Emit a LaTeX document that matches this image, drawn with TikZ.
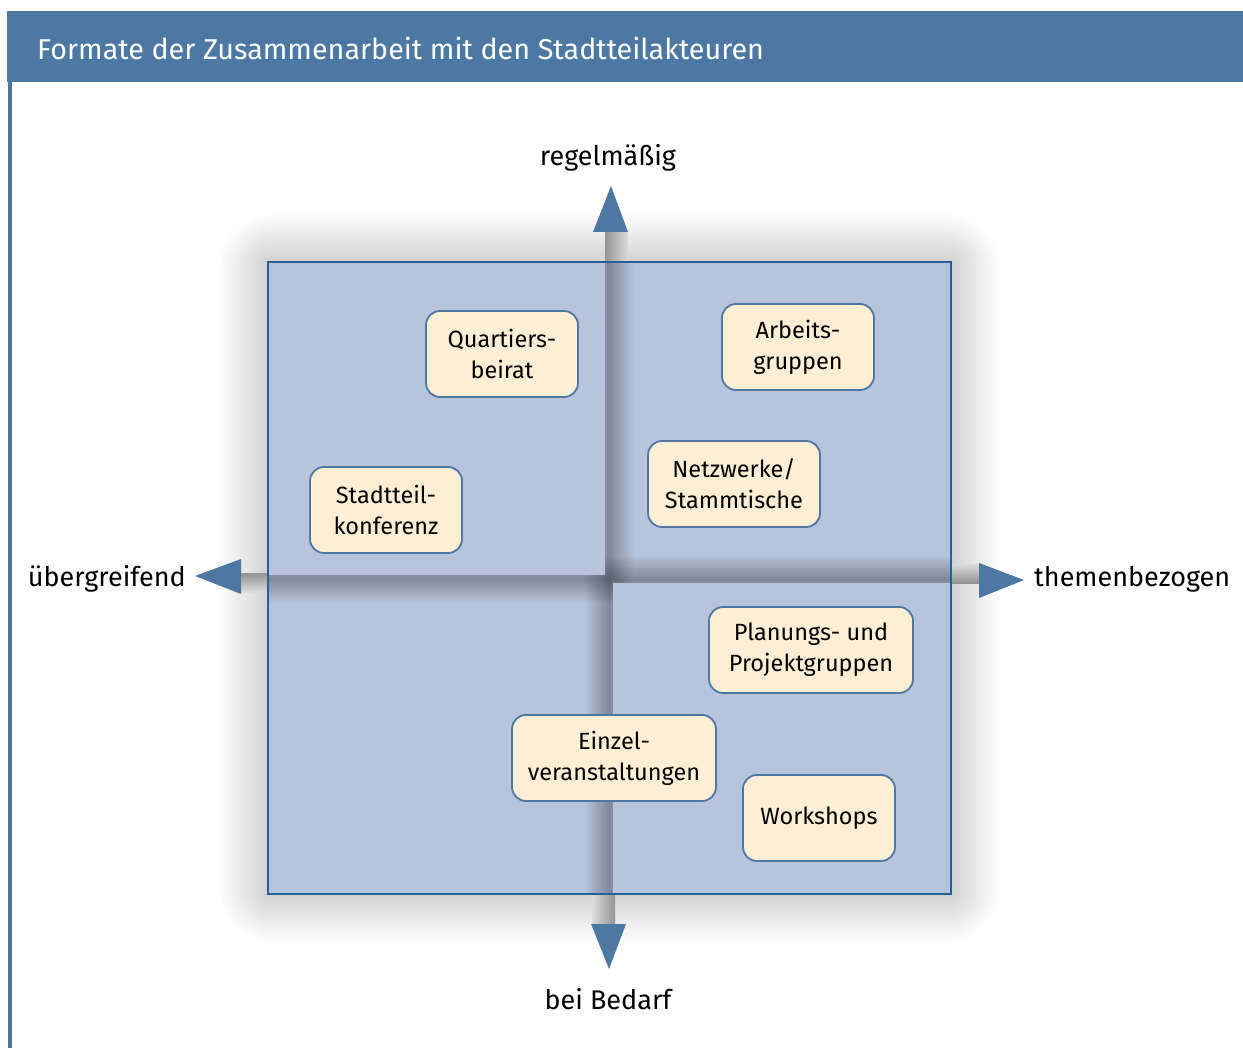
\documentclass[tikz,border=0pt]{standalone}
\usepackage{fontspec}
\setmainfont{Fira Sans}
\usetikzlibrary{positioning, calc, fadings}
\definecolor{kopfblau}{RGB}{78,120,164}
\definecolor{rahmenblau}{RGB}{38,98,150}
\definecolor{feldblau}{RGB}{183,196,220}
\definecolor{kastencreme}{RGB}{254,239,212}
\tikzfading[name=quermitte, left color=transparent!100, right color=transparent!100, middle color=transparent!0]
\tikzfading[name=laengsmitte, top color=transparent!100, bottom color=transparent!100, middle color=transparent!0]

\begin{document}
\begin{tikzpicture}[x=1pt, y=-1pt,
    kasten/.style={draw=kopfblau, line width=1.8pt, fill=kastencreme, rounded corners=14pt,
        minimum width=152pt, minimum height=86pt, inner sep=0pt, align=center,
        font=\fontsize{23.5}{31}\selectfont},
    achse/.style={font=\fontsize{27}{32}\selectfont},
    pfeil/.style={fill=kopfblau},
    band/.style={fill=black, opacity=0.3}]
    \useasboundingbox (0,0) rectangle (1243,1048);

    % Kopfzeile
    \fill[kopfblau] (7,11) rectangle (1243,82);
    \node[anchor=base west, text=white, font=\fontsize{28.7}{34}\selectfont, inner sep=0pt] (titel) at (37,60) {Formate der Zusammenarbeit mit den Stadtteilakteuren};
    \fill[kopfblau] (8,82) rectangle (12,1048);

    % Schatten um das Feld
    \foreach \i in {1,...,22}
        \fill[black, opacity=0.008, rounded corners=2.5*\i] (268-2.2*\i,262-2.2*\i) rectangle (951+2.2*\i,894+2.2*\i);

    % Achsenstummel ausserhalb
    \shade[left color=black!42, right color=black!14] (605,232) rectangle (628,262);
    \shade[left color=black!14, right color=black!42] (592,894) rectangle (615,924);
    \shade[top color=black!42, bottom color=black!14] (241,573) rectangle (268,592);
    \shade[top color=black!14, bottom color=black!42] (951,564) rectangle (979,583);

    % Feld mit vier Quadranten
    \fill[feldblau] (268,262) rectangle (951,894);
    \fill[band, path fading=quermitte] (585,262) rectangle (633,894);
    \fill[band, path fading=laengsmitte] (268,555) rectangle (951,603);
    \fill[feldblau] (268,262) rectangle (605,575);
    \fill[feldblau] (613,583) rectangle (951,894);
    \draw[rahmenblau, line width=1.8pt] (268,262) rectangle (951,894);

    % Pfeile
    \fill[pfeil] (611,186) -- (593,232) -- (628,232) -- cycle;
    \fill[pfeil] (195,576) -- (241,559) -- (241,594) -- cycle;
    \fill[pfeil] (1024,580) -- (979,563) -- (979,598) -- cycle;
    \fill[pfeil] (609,969) -- (591,924) -- (626,924) -- cycle;

    % Achsenbeschriftung
    \node[achse, anchor=base, inner sep=0pt] (oben) at (608,166) {regelmäßig};
    \node[achse, anchor=base east, inner sep=0pt] (links) at (186,586) {übergreifend};
    \node[achse, anchor=base west, inner sep=0pt] (rechts) at (1034,586) {themenbezogen};
    \node[achse, anchor=base, inner sep=0pt] (unten) at (608,1009) {bei Bedarf};

    % Formate
    \node[kasten] (beirat) at (502,354) {Quartiers-\\beirat};
    \node[kasten] (arbeit) at (798,347) {Arbeits-\\gruppen};
    \node[kasten] (konferenz) at (386,510) {Stadtteil-\\konferenz};
    \node[kasten, minimum width=172pt] (netz) at (734,484) {Netzwerke/\\Stammtische};
    \node[kasten, minimum width=204pt] (planung) at (811,650) {Planungs- und\\Projektgruppen};
    \node[kasten, minimum width=204pt] (einzel) at (614,758) {Einzel-\\veranstaltungen};
    \node[kasten] (workshop) at (819,818) {Workshops};
\end{tikzpicture}
\end{document}
